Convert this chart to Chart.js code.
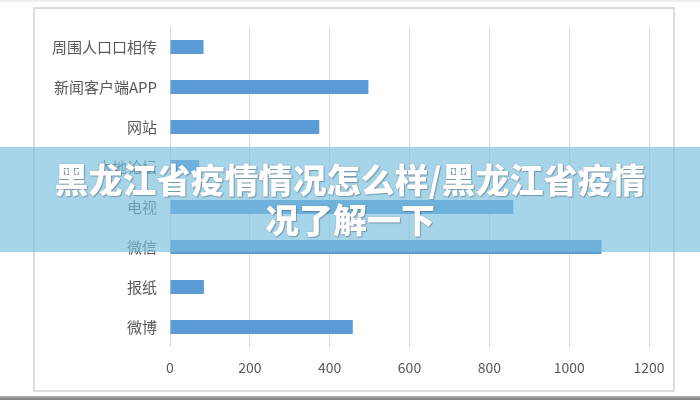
<!DOCTYPE html>
<html><head><meta charset="utf-8">
<script src="https://cdn.jsdelivr.net/npm/chart.js@4.4.1/dist/chart.umd.min.js"></script>
<style>
html,body{margin:0;padding:0;background:#fff;width:700px;height:400px;overflow:hidden;}
#wrap{position:absolute;left:0;top:0;width:700px;height:400px;}
#frame{position:absolute;left:33px;top:7px;width:638px;height:381px;border:2px solid #dcdcdc;}
#topline{position:absolute;left:0;top:0;width:700px;height:2px;background:#efefef;}
#botline{position:absolute;left:0;top:396px;width:700px;height:4px;background:linear-gradient(#b0b0b0,#7a7a7a);}
canvas{position:absolute;left:0;top:0;}
#banner{position:absolute;left:0;top:147px;width:700px;height:105px;background:rgba(120,190,222,0.66);}
#title{position:absolute;left:0;top:159px;width:700px;text-align:center;color:#fff;font-family:"Noto Sans CJK SC",sans-serif;font-weight:900;font-size:34px;line-height:40px;text-shadow:0 0 1px rgba(40,60,80,0.5),1px 1px 1px rgba(40,60,80,0.35);}
</style></head>
<body><div id="wrap">
<div id="topline"></div>
<div id="frame"></div>
<canvas id="c" width="700" height="400"></canvas>
<div id="banner"></div>
<div id="title">黑龙江省疫情情况怎么样/黑龙江省疫情<br>况了解一下</div>
<div id="botline"></div>
</div>
<script>
const categories = ["周围人口口相传","新闻客户端APP","网站","本地论坛","电视","微信","报纸","微博"];
const values = [84, 497, 374, 73, 860, 1081, 85, 458];
const xTicks = [0,200,400,600,800,1000,1200];

new Chart(document.getElementById('c'), {
  type: 'bar',
  data: {
    labels: categories,
    datasets: [{ data: values, backgroundColor: '#5b9bd5', borderWidth: 0, categoryPercentage: 1, barPercentage: 0.35 }]
  },
  options: {
    indexAxis: 'y',
    responsive: false,
    animation: false,
    devicePixelRatio: 1,
    layout: { padding: { left: 0, right: 51, top: 27, bottom: 23 } },
    plugins: { legend: { display: false }, tooltip: { enabled: false } },
    scales: {
      x: {
        min: 0, max: 1200,
        afterBuildTicks: (s) => { s.ticks = xTicks.map(v => ({ value: v })); },
        afterFit: (s) => { s.height = 30; },
        grid: { color: '#d9d9d9', lineWidth: 1, drawTicks: false },
        border: { display: false },
        ticks: { padding: 12, color: '#595959', callback: (v) => String(v), font: { family: '"Noto Sans CJK SC", sans-serif', size: 14 } }
      },
      y: {
        afterFit: (s) => { s.width = 170; },
        grid: { display: false, drawTicks: false },
        border: { display: false },
        ticks: { padding: 13, color: '#595959', font: { family: '"Noto Sans CJK SC", sans-serif', size: 15 } }
      }
    }
  }
});
</script>
</body></html>
